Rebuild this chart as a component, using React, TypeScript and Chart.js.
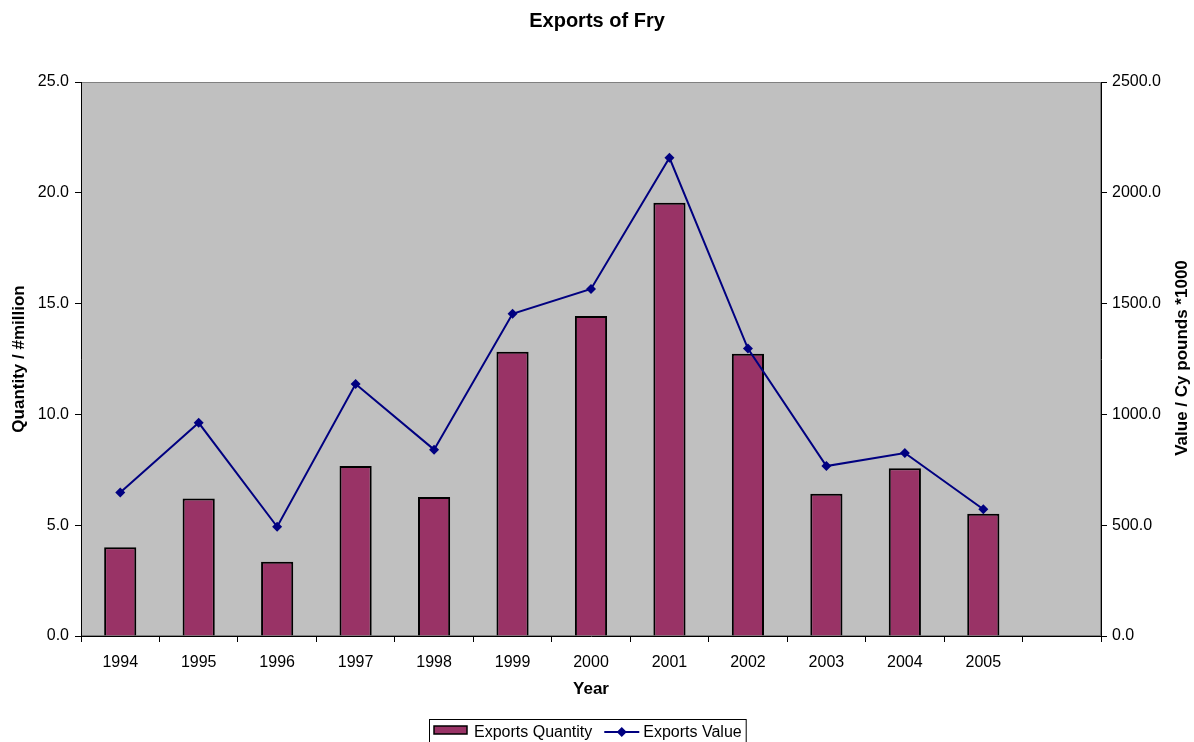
import React, { useEffect, useRef } from "react";
import { Chart, registerables } from "chart.js";

Chart.register(...registerables);

const years = ["1994", "1995", "1996", "1997", "1998", "1999", "2000", "2001", "2002", "2003", "2004", "2005", ""];
const exportsQuantity = [4.0, 6.2, 3.35, 7.67, 6.27, 12.83, 14.44, 19.55, 12.74, 6.42, 7.57, 5.52];
const exportsValue = [648, 962, 493, 1137, 841, 1454, 1566, 2158, 1297, 767, 826, 572];

const FONT = '"Liberation Sans", Arial, sans-serif';
const BAR_COLOR = "#993366";
const LINE_COLOR = "#000080";

const decorPlugin = {
  id: "decor",
  beforeDraw(chart: any) {
    const { ctx, chartArea: a } = chart;
    ctx.save();
    ctx.fillStyle = "#c0c0c0";
    ctx.fillRect(a.left, a.top, a.right - a.left, a.bottom - a.top);
    ctx.strokeStyle = "#808080";
    ctx.lineWidth = 1;
    ctx.strokeRect(a.left + 0.5, a.top + 0.5, a.right - a.left - 1, a.bottom - a.top - 1);
    ctx.restore();
  },
  afterDraw(chart: any) {
    const { ctx, chartArea: a } = chart;
    ctx.save();
    // right axis title (reads bottom to top)
    ctx.font = `bold 17px ${FONT}`;
    ctx.fillStyle = "#000";
    ctx.textAlign = "center";
    ctx.textBaseline = "middle";
    ctx.translate(1182, (a.top + a.bottom) / 2 - 1);
    ctx.rotate(-Math.PI / 2);
    ctx.fillText("Value / Cy pounds *1000", 0, 0);
    ctx.restore();

    // legend
    const ds = chart.data.datasets;
    ctx.save();
    ctx.font = `16px ${FONT}`;
    ctx.textBaseline = "middle";
    ctx.textAlign = "left";
    const top = 719;
    const cy = 733;
    let x = 429;
    const startX = x;
    x += 5;
    // bar swatch
    ctx.fillStyle = BAR_COLOR;
    ctx.fillRect(x, cy - 7, 33, 8);
    ctx.strokeStyle = "#000";
    ctx.lineWidth = 1.5;
    ctx.strokeRect(x, cy - 7, 33, 8);
    x += 33 + 7;
    ctx.fillStyle = "#000";
    ctx.fillText(ds[0].label, x, cy);
    x += ctx.measureText(ds[0].label).width + 12;
    // line swatch
    ctx.strokeStyle = LINE_COLOR;
    ctx.lineWidth = 2;
    ctx.beginPath();
    ctx.moveTo(x, cy - 1);
    ctx.lineTo(x + 35, cy - 1);
    ctx.stroke();
    ctx.fillStyle = LINE_COLOR;
    ctx.beginPath();
    const dx = x + 17.5;
    ctx.moveTo(dx, cy - 6);
    ctx.lineTo(dx + 5, cy - 1);
    ctx.lineTo(dx, cy + 4);
    ctx.lineTo(dx - 5, cy - 1);
    ctx.closePath();
    ctx.fill();
    x += 35 + 4;
    ctx.fillStyle = "#000";
    ctx.fillText(ds[1].label, x, cy);
    x += ctx.measureText(ds[1].label).width + 4;
    ctx.strokeStyle = "#000";
    ctx.lineWidth = 1;
    ctx.strokeRect(startX + 0.5, top + 0.5, x - startX, 40);
    ctx.restore();
  },
};

export default function App() {
  const ref = useRef<HTMLCanvasElement | null>(null);
  useEffect(() => {
    if (!ref.current) return;
    const chart = new Chart(ref.current, {
      type: "bar",
      data: {
        labels: years,
        datasets: [
          {
            type: "bar",
            label: "Exports Quantity",
            data: exportsQuantity,
            backgroundColor: BAR_COLOR,
            borderColor: "#000",
            borderWidth: 2,
            categoryPercentage: 1,
            barPercentage: 0.41,
            yAxisID: "y",
            order: 2,
          } as any,
          {
            type: "line",
            label: "Exports Value",
            data: exportsValue,
            borderColor: LINE_COLOR,
            backgroundColor: LINE_COLOR,
            borderWidth: 2,
            pointStyle: "rectRot",
            pointRadius: 5,
            pointBorderWidth: 0,
            tension: 0,
            yAxisID: "y1",
            order: 1,
          } as any,
        ],
      },
      plugins: [decorPlugin],
      options: {
        responsive: false,
        animation: false,
        layout: { padding: 0 },
        plugins: {
          legend: { display: false },
          tooltip: { enabled: false },
          title: {
            display: true,
            text: "Exports of Fry",
            color: "#000",
            font: { family: FONT, size: 20, weight: "bold", lineHeight: 1.2 },
            padding: { top: 9, bottom: 49 },
          },
        },
        scales: {
          x: {
            offset: true,
            grid: { display: true, drawOnChartArea: false, drawTicks: true, tickLength: 6, color: "#000", offset: true },
            border: { display: true, color: "#000", width: 1 },
            ticks: { color: "#000", font: { family: FONT, size: 16 }, padding: 11, maxRotation: 0, autoSkip: false },
            title: {
              display: true,
              text: "Year",
              color: "#000",
              font: { family: FONT, size: 17, weight: "bold", lineHeight: 1.2 },
              padding: { top: 0, bottom: 42 },
            },
            afterFit: (s: any) => {
              s.height = 106;
            },
          },
          y: {
            position: "left",
            min: 0,
            max: 25,
            ticks: {
              stepSize: 5,
              color: "#000",
              font: { family: FONT, size: 16 },
              padding: 6,
              callback: (v: any) => Number(v).toFixed(1),
            },
            grid: { drawOnChartArea: false, drawTicks: true, tickLength: 6, color: "#000" },
            border: { display: true, color: "#000", width: 1 },
            title: {
              display: true,
              text: "Quantity / #million",
              color: "#000",
              font: { family: FONT, size: 17, weight: "bold", lineHeight: 1.2 },
              padding: { top: 9, bottom: 0 },
            },
            afterFit: (s: any) => {
              s.width = 81;
            },
          },
          y1: {
            position: "right",
            min: 0,
            max: 2500,
            ticks: {
              stepSize: 500,
              color: "#000",
              font: { family: FONT, size: 16 },
              padding: 5,
              callback: (v: any) => Number(v).toFixed(1),
            },
            grid: { drawOnChartArea: false, drawTicks: true, tickLength: 6, color: "#000" },
            border: { display: true, color: "#000", width: 1 },
            afterFit: (s: any) => {
              s.width = 93;
            },
          },
        },
      } as any,
    });
    return () => chart.destroy();
  }, []);
  return (
    <div style={{ position: "absolute", left: 0, top: 0, width: 1194, height: 742, background: "#fff" }}>
      <canvas ref={ref} width={1194} height={742} style={{ display: "block" }} />
    </div>
  );
}
